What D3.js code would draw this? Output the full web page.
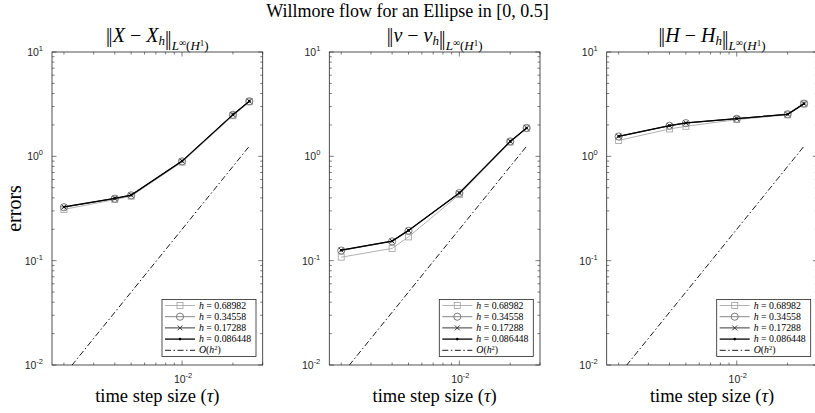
<!DOCTYPE html>
<html><head><meta charset="utf-8">
<script src="https://cdn.jsdelivr.net/npm/d3@7"></script>
<style>
body{margin:0;background:#fff;}
svg{display:block;}
</style></head>
<body>
<svg id="chart" width="815" height="413"></svg>
<script>
// ---------- data ----------
const tau = [0.002, 0.004, 0.005, 0.01, 0.02, 0.025];
const hLabels = ["0.68982", "0.34558", "0.17288", "0.086448"];

// ||X - X_h||
const errX_h1 = [0.310, 0.385, 0.415, 0.880, 2.45, 3.33];
const errX_h2 = [0.325, 0.393, 0.423, 0.895, 2.50, 3.37];
const errX_h3 = [0.327, 0.395, 0.425, 0.900, 2.51, 3.38];
const errX_h4 = [0.327, 0.395, 0.425, 0.900, 2.51, 3.38];

// ||nu - nu_h||
const errNu_h1 = [0.108, 0.131, 0.169, 0.430, 1.37, 1.86];
const errNu_h2 = [0.125, 0.153, 0.193, 0.445, 1.39, 1.87];
const errNu_h3 = [0.126, 0.154, 0.195, 0.446, 1.39, 1.87];
const errNu_h4 = [0.126, 0.154, 0.195, 0.446, 1.39, 1.87];

// ||H - H_h||
const errH_h1 = [1.42, 1.83, 1.94, 2.25, 2.50, 3.18];
const errH_h2 = [1.55, 1.96, 2.08, 2.29, 2.53, 3.20];
const errH_h3 = [1.556, 1.97, 2.09, 2.30, 2.53, 3.20];
const errH_h4 = [1.556, 1.97, 2.09, 2.30, 2.53, 3.20];

// O(h^2) reference line
const refTau = [0.002, 0.025];
const refVals = [0.008, 1.25];

const xDomain = [0.0017, 0.03];
const yDomain = [1e-2, 1e1];
const yTickVals = [1e-2, 1e-1, 1e0, 1e1];
const xTickVals = [1e-2];

const panels = [
  {title: "X", series: [errX_h1, errX_h2, errX_h3, errX_h4]},
  {title: "nu", series: [errNu_h1, errNu_h2, errNu_h3, errNu_h4]},
  {title: "H", series: [errH_h1, errH_h2, errH_h3, errH_h4]}
];

// ---------- layout ----------
const svg = d3.select("#chart");
const lefts = [52, 329.3, 606.7];
const pw = 210.7, pTop = 52, pBottom = 365;
const axisColor = "#262626";
const serif = "'Liberation Serif', 'Times New Roman', serif";
const sans = "'Liberation Sans', Arial, Helvetica, sans-serif";

const styles = [
  {color: "#a8a8a8", marker: "square", lw: 0.9},
  {color: "#7a7a7a", marker: "circle", lw: 0.9},
  {color: "#3a3a3a", marker: "x", lw: 1.0},
  {color: "#000000", marker: "dot", lw: 1.3}
];

const defs = svg.append("defs");

// Title
svg.append("text").attr("x", 407.5).attr("y", 17).attr("text-anchor", "middle")
  .style("font-family", serif).style("font-size", "18px").attr("fill", "#000")
  .text("Willmore flow for an Ellipse in [0, 0.5]");

function drawMarker(g, type, x, y, color) {
  if (type === "square") {
    g.append("rect").attr("x", x - 3).attr("y", y - 3).attr("width", 6).attr("height", 6)
      .attr("fill", "none").attr("stroke", color).attr("stroke-width", 0.9);
  } else if (type === "circle") {
    g.append("circle").attr("cx", x).attr("cy", y).attr("r", 3.6)
      .attr("fill", "none").attr("stroke", color).attr("stroke-width", 1.0);
  } else if (type === "x") {
    const s = 2.4;
    g.append("path").attr("d", `M${x-s},${y-s}L${x+s},${y+s}M${x-s},${y+s}L${x+s},${y-s}`)
      .attr("stroke", color).attr("stroke-width", 1.0);
  } else if (type === "dot") {
    g.append("circle").attr("cx", x).attr("cy", y).attr("r", 1.3).attr("fill", color);
  }
}

function addNorm(t) {
  t.append("tspan").style("letter-spacing", "-1.5px").text("||");
  t.append("tspan").style("letter-spacing", "0px").text("\u200A");
}

function addSubtitle(g, cx, which) {
  const t = g.append("text").attr("x", cx).attr("y", 42).attr("text-anchor", "middle")
    .style("font-family", serif).style("font-size", "20px").attr("fill", "#000");
  let v;
  if (which === "X") v = ["X", "X"];
  else if (which === "nu") v = ["ν", "ν"];
  else v = ["H", "H"];
  addNorm(t);
  t.append("tspan").style("font-style", "italic").text(v[0]);
  t.append("tspan").text(" \u2212 ");
  t.append("tspan").style("font-style", "italic").text(v[1]);
  t.append("tspan").style("font-style", "italic").style("font-size", "13px").attr("dy", 3).text("h");
  t.append("tspan").attr("dy", -3).text("");
  addNorm(t);
  t.append("tspan").style("font-style", "italic").style("font-size", "13px").attr("dy", 5).text("L");
  t.append("tspan").style("font-size", "10px").attr("dy", -4).text("\u221E");
  t.append("tspan").style("font-size", "13px").attr("dy", 4).text("(");
  t.append("tspan").style("font-style", "italic").style("font-size", "13px").text("H");
  t.append("tspan").style("font-size", "9px").attr("dy", -4).text("1");
  t.append("tspan").style("font-size", "13px").attr("dy", 4).text(")");
}

panels.forEach((p, pi) => {
  const x0 = lefts[pi];
  const x = d3.scaleLog().domain(xDomain).range([x0, x0 + pw]);
  const y = d3.scaleLog().domain(yDomain).range([pBottom, pTop]);
  const g = svg.append("g");

  defs.append("clipPath").attr("id", "clip" + pi).append("rect")
    .attr("x", x0).attr("y", pTop).attr("width", pw).attr("height", pBottom - pTop);

  // minor ticks
  const yMinor = [];
  for (let e = -2; e < 1; e++) for (let m = 2; m <= 9; m++) yMinor.push(m * Math.pow(10, e));
  const xMinor = [];
  for (let e = -3; e < -1; e++) for (let m = 1; m <= 9; m++) {
    const v = m * Math.pow(10, e);
    if (v >= xDomain[0] && v <= xDomain[1] && Math.abs(v - 0.01) > 1e-9) xMinor.push(v);
  }
  const tg = g.append("g").attr("stroke", axisColor).attr("stroke-width", 0.6);
  yMinor.forEach(v => {
    const yy = y(v);
    tg.append("line").attr("x1", x0).attr("x2", x0 + 2.5).attr("y1", yy).attr("y2", yy);
    tg.append("line").attr("x1", x0 + pw).attr("x2", x0 + pw - 2.5).attr("y1", yy).attr("y2", yy);
  });
  yTickVals.forEach(v => {
    const yy = y(v);
    tg.append("line").attr("x1", x0).attr("x2", x0 + 4.5).attr("y1", yy).attr("y2", yy);
    tg.append("line").attr("x1", x0 + pw).attr("x2", x0 + pw - 4.5).attr("y1", yy).attr("y2", yy);
  });
  xMinor.forEach(v => {
    const xx = x(v);
    tg.append("line").attr("x1", xx).attr("x2", xx).attr("y1", pBottom).attr("y2", pBottom - 2.5);
    tg.append("line").attr("x1", xx).attr("x2", xx).attr("y1", pTop).attr("y2", pTop + 2.5);
  });
  xTickVals.forEach(v => {
    const xx = x(v);
    tg.append("line").attr("x1", xx).attr("x2", xx).attr("y1", pBottom).attr("y2", pBottom - 4.5);
    tg.append("line").attr("x1", xx).attr("x2", xx).attr("y1", pTop).attr("y2", pTop + 4.5);
  });

  // box
  g.append("rect").attr("x", x0).attr("y", pTop).attr("width", pw).attr("height", pBottom - pTop)
    .attr("fill", "none").attr("stroke", axisColor).attr("stroke-width", 0.8);

  // tick labels
  yTickVals.forEach(v => {
    const t = g.append("text").attr("x", x0 - 9).attr("y", y(v) + 4).attr("text-anchor", "end")
      .style("font-family", sans).style("font-size", "10.5px").attr("fill", axisColor);
    t.append("tspan").text("10");
    t.append("tspan").style("font-size", "7.5px").attr("dy", -5).text(String(Math.round(Math.log10(v))));
  });
  xTickVals.forEach(v => {
    const t = g.append("text").attr("x", x(v) + 1).attr("y", 382.5).attr("text-anchor", "middle")
      .style("font-family", sans).style("font-size", "10.5px").attr("fill", axisColor);
    t.append("tspan").text("10");
    t.append("tspan").style("font-size", "7.5px").attr("dy", -5).text(String(Math.round(Math.log10(v))));
  });

  // x label
  const xl = g.append("text").attr("x", x0 + pw / 2).attr("y", 402).attr("text-anchor", "middle")
    .style("font-family", serif).style("font-size", "18.5px").attr("fill", "#000");
  xl.append("tspan").text("time step size (");
  xl.append("tspan").style("font-style", "italic").text("τ");
  xl.append("tspan").text(")");

  addSubtitle(g, x0 + pw / 2, p.title);

  // reference line
  const line = d3.line().x((d, i) => x(refTau[i])).y(d => y(d));
  g.append("path").attr("d", line(refVals)).attr("clip-path", `url(#clip${pi})`)
    .attr("fill", "none").attr("stroke", "#000").attr("stroke-width", 0.9)
    .attr("stroke-dasharray", "6,2.5,1.5,2.5");

  // series
  p.series.forEach((vals, si) => {
    const st = styles[si];
    const l = d3.line().x((d, i) => x(tau[i])).y(d => y(d));
    g.append("path").attr("d", l(vals)).attr("fill", "none")
      .attr("stroke", st.color).attr("stroke-width", st.lw);
    vals.forEach((v, i) => drawMarker(g, st.marker, x(tau[i]), y(v), st.color));
  });

  // legend
  const lw = 94, lh = 57;
  const lx = x0 + 110, ly = 299.5;
  const lg = g.append("g");
  lg.append("rect").attr("x", lx).attr("y", ly).attr("width", lw).attr("height", lh)
    .attr("fill", "#fff").attr("stroke", axisColor).attr("stroke-width", 0.8);
  const rows = hLabels.length + 1;
  for (let r = 0; r < rows; r++) {
    const ry = ly + 6 + r * 11.2;
    const sx1 = lx + 3, sx2 = lx + 33;
    if (r < hLabels.length) {
      const st = styles[r];
      lg.append("line").attr("x1", sx1).attr("x2", sx2).attr("y1", ry).attr("y2", ry)
        .attr("stroke", st.color).attr("stroke-width", st.lw);
      drawMarker(lg, st.marker, (sx1 + sx2) / 2, ry, st.color);
      const t = lg.append("text").attr("x", lx + 37).attr("y", ry + 3)
        .style("font-family", serif).style("font-size", "9.8px").attr("fill", "#000");
      t.append("tspan").style("font-style", "italic").text("h");
      t.append("tspan").text(" = " + hLabels[r]);
    } else {
      lg.append("line").attr("x1", sx1).attr("x2", sx2).attr("y1", ry).attr("y2", ry)
        .attr("stroke", "#000").attr("stroke-width", 0.9).attr("stroke-dasharray", "6,2.5,1.5,2.5");
      const t = lg.append("text").attr("x", lx + 37).attr("y", ry + 3)
        .style("font-family", serif).style("font-size", "9.8px").attr("fill", "#000");
      t.append("tspan").style("font-style", "italic").text("O");
      t.append("tspan").text("(");
      t.append("tspan").style("font-style", "italic").text("h");
      t.append("tspan").style("font-size", "6.5px").attr("dy", -3).text("2");
      t.append("tspan").attr("dy", 3).text(")");
    }
  }
});

// y label
svg.append("text").attr("transform", "translate(21,208.5) rotate(-90)").attr("text-anchor", "middle")
  .style("font-family", serif).style("font-size", "20px").attr("fill", "#000").text("errors");
</script>
</body></html>
